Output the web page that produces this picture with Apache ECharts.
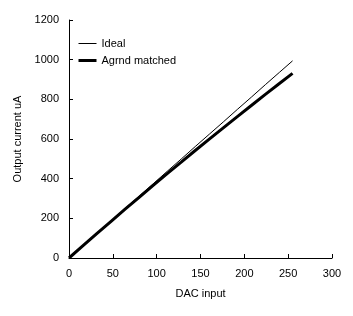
<!DOCTYPE html>
<html><head><meta charset="utf-8">
<script src="https://cdn.jsdelivr.net/npm/echarts@6/dist/echarts.min.js"></script>
<style>html,body{margin:0;padding:0;background:#fff}#c{width:353px;height:316px}</style>
</head><body><div id="c"></div>
<script>
const dacInput = [0, 16, 32, 48, 64, 80, 96, 112, 128, 144, 160, 176, 192, 208, 224, 240, 255];
const ideal = [0, 62, 125, 187, 250, 312, 374, 437, 499, 562, 624, 686, 749, 811, 874, 936, 994];
const agrndMatched = [0, 62, 124, 185, 246, 306, 366, 425, 483, 542, 599, 656, 713, 769, 825, 880, 931];
const xTicks = [0, 50, 100, 150, 200, 250, 300];
const yTicks = [0, 200, 400, 600, 800, 1000, 1200];

const font = 'Liberation Sans, Arial, sans-serif';
const chart = echarts.init(document.getElementById('c'), null, {renderer: 'canvas'});
const axisCommon = {
  axisLine: {lineStyle: {color: '#000', width: 1}},
  axisTick: {inside: true, length: 4, lineStyle: {color: '#000'}},
  splitLine: {show: false},
  nameTextStyle: {color: '#000', fontFamily: font, fontSize: 11},
  nameLocation: 'middle'
};
const labelStyle = {color: '#000', fontFamily: font, fontSize: 11, margin: 10, formatter: v => String(v)};
chart.setOption({
  animation: false,
  grid: {left: 69, right: 21, top: 20, bottom: 58},
  legend: {
    orient: 'vertical', left: 72, top: 33, itemWidth: 18, itemHeight: 10, itemGap: 6,
    itemStyle: {opacity: 0},
    textStyle: {color: '#000', fontFamily: font, fontSize: 11},
    data: [
      {name: 'Ideal', lineStyle: {width: 1, color: '#000'}},
      {name: 'Agrnd matched', lineStyle: {width: 3, color: '#000'}}
    ]
  },
  xAxis: Object.assign({}, axisCommon, {
    type: 'value', min: xTicks[0], max: xTicks[xTicks.length - 1], interval: 50,
    name: 'DAC input', nameGap: 30, axisLabel: labelStyle
  }),
  yAxis: Object.assign({}, axisCommon, {
    type: 'value', min: yTicks[0], max: yTicks[yTicks.length - 1], interval: 200,
    name: 'Output current uA', nameGap: 35, axisLabel: labelStyle
  }),
  series: [
    {name: 'Ideal', type: 'line', symbol: 'none', data: dacInput.map((x, i) => [x, ideal[i]]),
     lineStyle: {color: '#000', width: 1}, itemStyle: {color: '#000'}},
    {name: 'Agrnd matched', type: 'line', symbol: 'none', data: dacInput.map((x, i) => [x, agrndMatched[i]]),
     lineStyle: {color: '#000', width: 3}, itemStyle: {color: '#000'}}
  ]
});
</script></body></html>
